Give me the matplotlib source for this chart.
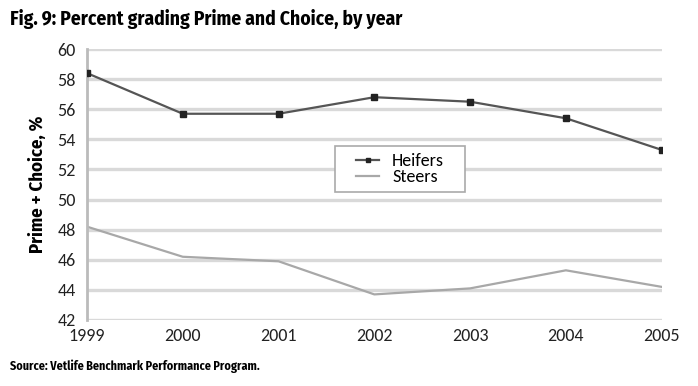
"""Percent grading Prime and Choice, heifers vs steers, 1999-2005
"""

import matplotlib
matplotlib.use("Agg")
import matplotlib.pyplot as plt
from matplotlib.patches import Rectangle

years = [1999, 2000, 2001, 2002, 2003, 2004, 2005]
heifers = [58.4, 55.7, 55.7, 56.8, 56.5, 55.4, 53.3]
steers = [48.2, 46.2, 45.9, 43.7, 44.1, 45.3, 44.2]
yticks = list(range(42, 61, 2))

headfont = ["Fira Sans Condensed", "DejaVu Sans"]
bodyfont = ["Carlito", "Fira Sans", "DejaVu Sans"]
plt.rcParams["font.family"] = bodyfont

fig = plt.figure(figsize=(6.98, 3.86), dpi=100)
ax = fig.add_axes([0.1246, 0.171, 0.8234, 0.702])

# horizontal grid
for y in yticks:
    ax.axhline(y, color="#d9d9d9", lw=2.4, zorder=0)

ax.plot(years, heifers, "-", color="#555555", lw=1.6, marker="s", ms=5,
        mfc="#222222", mec="#222222", label="Heifers", zorder=3)
ax.plot(years, steers, "-", color="#a8a8a8", lw=1.6, label="Steers", zorder=2)

ax.set_xlim(1999, 2005)
ax.set_ylim(42, 60)
ax.set_xticks(years)
ax.set_yticks(yticks)
for s in ["top", "right", "bottom"]:
    ax.spines[s].set_visible(False)
ax.spines["left"].set_color("#bbbbbb")
ax.spines["left"].set_linewidth(2)
ax.tick_params(axis="both", length=0, labelsize=13, colors="#222222")
ax.tick_params(axis="x", pad=6)
ax.tick_params(axis="y", pad=8)

ax.set_ylabel("Prime + Choice, %", fontsize=13.5, fontweight="bold",
              family=headfont, labelpad=8)

# legend without its own frame; a wider box is drawn around it
leg = ax.legend(loc="center", bbox_to_anchor=(0.573, 0.562),
                bbox_transform=fig.transFigure, fontsize=13, frameon=False,
                handlelength=1.3, borderpad=0, labelspacing=0.0,
                handletextpad=0.7, markerscale=0.7)
box = Rectangle((0.48, 0.5026), 0.186, 0.1192, transform=fig.transFigure,
                facecolor="white", edgecolor="#aaaaaa", lw=1.2, zorder=4)
ax.add_artist(box)
box.set_clip_on(False)
leg.set_zorder(5)

fig.text(0.014, 0.95, "Fig. 9: Percent grading Prime and Choice, by year",
         fontsize=14, fontweight="bold", family=headfont, va="center")
fig.text(0.014, 0.05, "Source: Vetlife Benchmark Performance Program.",
         fontsize=8.7, fontweight="bold", family=headfont, va="center")

plt.savefig("out.png")
